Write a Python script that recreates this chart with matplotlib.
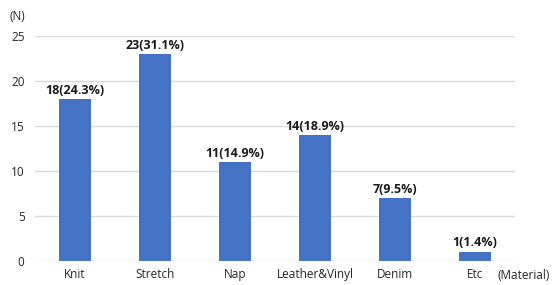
import matplotlib
matplotlib.use("Agg")
import matplotlib.pyplot as plt

categories = ["Knit", "Stretch", "Nap", "Leather&Vinyl", "Denim", "Etc"]
counts = [18, 23, 11, 14, 7, 1]
percents = ["24.3%", "31.1%", "14.9%", "18.9%", "9.5%", "1.4%"]
yticks = [0, 5, 10, 15, 20, 25]

plt.rcParams['font.family'] = ['Open Sans', 'DejaVu Sans']
fig = plt.figure(figsize=(5.52, 2.85), dpi=100)
ax = fig.add_axes([35 / 552, (285 - 260.7) / 285, 480 / 552, (260.7 - 36) / 285])

x = range(len(categories))
bars = ax.bar(x, counts, width=0.4, color="#4472C4", zorder=3)
for xi, c, p in zip(x, counts, percents):
    ax.text(xi, c + 0.25, f"{c}({p})", ha="center", va="bottom",
            fontsize=9, fontweight="bold", color="#1a1a1a")

ax.set_xlim(-0.5, len(categories) - 0.5)
ax.set_ylim(0, 25)
ax.set_yticks(yticks)
ax.set_xticks(list(x))
ax.set_xticklabels(categories)
ax.tick_params(axis="both", length=0, labelsize=8.5, colors="#262626")
ax.tick_params(axis="y", pad=7.5)
ax.tick_params(axis="x", pad=5)
ax.grid(axis="y", color="#d9d9d9", linewidth=1, zorder=0)
for s in ax.spines.values():
    s.set_visible(False)

fig.text(10 / 552, 1 - 17 / 285, "(N)", fontsize=8.5, color="#262626", va="center", ha="left")
fig.text(497 / 552, 1 - 275.5 / 285, "(Material)", fontsize=8.5, color="#262626", va="center", ha="left")

fig.savefig("out.png", dpi=100)
